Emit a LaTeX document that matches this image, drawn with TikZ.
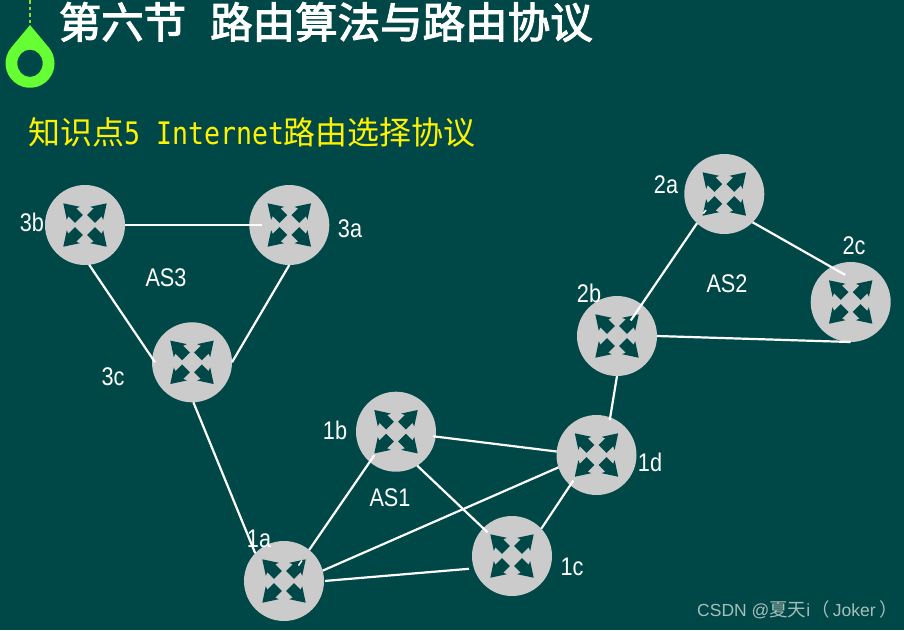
\documentclass[tikz,border=0pt]{standalone}
\usepackage{fontspec}
\usetikzlibrary{calc}
\setmainfont{Liberation Sans}
\newfontfamily\cjk{Noto Sans CJK SC}
\newfontfamily\cjkt[FakeBold=2.6]{Noto Sans CJK SC}
\newfontfamily\lab[FakeStretch=0.85]{Liberation Sans}
\newfontfamily\monoy[FakeStretch=0.857]{DejaVu Sans Mono}
\definecolor{bgc}{HTML}{004847}
\definecolor{rtc}{HTML}{CBCBCB}
\definecolor{drop}{HTML}{66FF33}
\definecolor{dots}{HTML}{99D633}
\definecolor{wm}{HTML}{A8BDBA}
\tikzset{
  rtnode/.style={circle,fill=rtc,minimum size=80pt,inner sep=0pt,outer sep=0pt},
  link/.style={draw=white,line width=2.2pt},
  lbl/.style={text=white,inner sep=0pt,font=\lab\fontsize{25.5}{25.5}\selectfont},
}
\newcommand{\rtr}[3]{%
  \node[rtnode] (#1) at (#2,#3) {};
  \foreach \a in {45,135,225,315}{
    \fill[bgc,shift={(#2,#3)},rotate=\a]
      (8.5,-5.5)--(18,-5.5)--(16.5,-9.2)--(30.7,0)--(16.5,9.2)--(18,5.5)--(8.5,5.5)--cycle;
  }%
}
\begin{document}
\begin{tikzpicture}[x=1pt,y=1pt,yscale=-1]
\useasboundingbox (0,0) rectangle (904,630);
\fill[bgc] (0,0) rectangle (904,630);
% teardrop
\draw[dots,line width=2.5pt,dash pattern=on 3.5pt off 3pt] (30,0) -- (30,25);
\fill[drop,even odd rule] (30,25) -- (11.2,47.6) arc[start angle=219.8,end angle=-39.8,radius=24.5pt] -- cycle
  (30,63.3) ellipse [x radius=12.7pt,y radius=13.7pt];
% titles
\node[anchor=west,inner sep=0pt,text=white] (title) at (58.5,22)
  {\cjkt\fontsize{42.5}{42.5}\selectfont 第六节\hspace{24pt}路由算法与路由协议};
\node[anchor=west,inner sep=0pt,text=yellow] (sub) at (28,132)
  {\cjk\fontsize{32}{32}\selectfont 知识点{\monoy\fontsize{31}{31}\selectfont 5 Internet}\hspace{-1pt}路由选择协议};
% routers
\rtr{n3b}{85}{225}
\rtr{n3a}{289.3}{225}
\rtr{n3c}{192}{362.3}
\rtr{n1b}{396}{431.7}
\rtr{n1d}{596.5}{455}
\rtr{n1a}{284}{581}
\rtr{n1c}{512}{556}
\rtr{n2b}{617}{336}
\rtr{n2a}{724.3}{194}
\rtr{n2c}{850.7}{302}
% labels
\node[lbl] (l3b) at (32,222) {3b};
\node[lbl] (l3a) at (350,229) {3a};
\node[lbl] (l3c) at (113,377) {3c};
\node[lbl] (las3) at (166,278) {AS3};
\node[lbl] (l2a) at (666,185) {2a};
\node[lbl] (l2b) at (589,293) {2b};
\node[lbl] (l2c) at (854,246) {2c};
\node[lbl] (las2) at (727,284) {AS2};
\node[lbl] (l1b) at (335,430) {1b};
\node[lbl] (l1a) at (259,539) {1a};
\node[lbl] (l1d) at (650,462) {1d};
\node[lbl] (l1c) at (572,567) {1c};
\node[lbl] (las1) at (390,498) {AS1};
% links
\draw[link,shorten >=-12.7pt] (n3b.0) -- (n3a.180);
\draw[link,shorten >=-5pt] (n3b.276) -- (n3c.174);
\draw[link] (n3a.270) -- (n3c.0);
\draw[link] (n3c.-88.5) -- (n1a.136);
\draw[link,shorten >=-8.3pt] (n1a.51) -- (n1b.229);
\draw[link] (n1a.15.9) -- (n1d.198.6);
\draw[link,shorten <=1pt,shorten >=5pt] (n1a.0) -- (n1c.198);
\draw[link,shorten <=-2.5pt] (n1b.-7.6) -- (n1d.175.3);
\draw[link,shorten >=-6pt] (n1b.-58.6) -- (n1c.136.6);
\draw[link,shorten >=-5.5pt] (n1c.43.6) -- (n1d.229);
\draw[link,shorten >=-2.7pt] (n2b.-90) -- (n1d.70.6);
\draw[link,shorten >=-19.4pt] (n2a.227.3) -- (n2b.52.9);
\draw[link,shorten >=-16pt] (n2a.-45.3) -- (n2c.119.5);
\draw[link] (n2b.0) -- (n2c.-90);
% line seen through the icon's arrow holes
\draw[white,line width=1.5pt] ($(n1a)+(14.5,-15.5)$) -- ($(n1a)+(18,-20.5)$);
\draw[white,line width=1.5pt] ($(n2a)+(-21,19.5)$) -- ($(n2a)+(-18.3,16)$);
% watermark
\node[anchor=west,inner sep=0pt,text=wm] (mark) at (697,610)
  {\fontsize{17.5}{17.5}\selectfont CSDN @{\cjk\fontsize{18.5}{18.5}\selectfont 夏天}i\hspace{1pt}{\cjk\fontsize{18.5}{18.5}\selectfont （}\hspace{3pt}Joker\hspace{4pt}{\cjk\fontsize{18.5}{18.5}\selectfont ）}};
\end{tikzpicture}
\end{document}
